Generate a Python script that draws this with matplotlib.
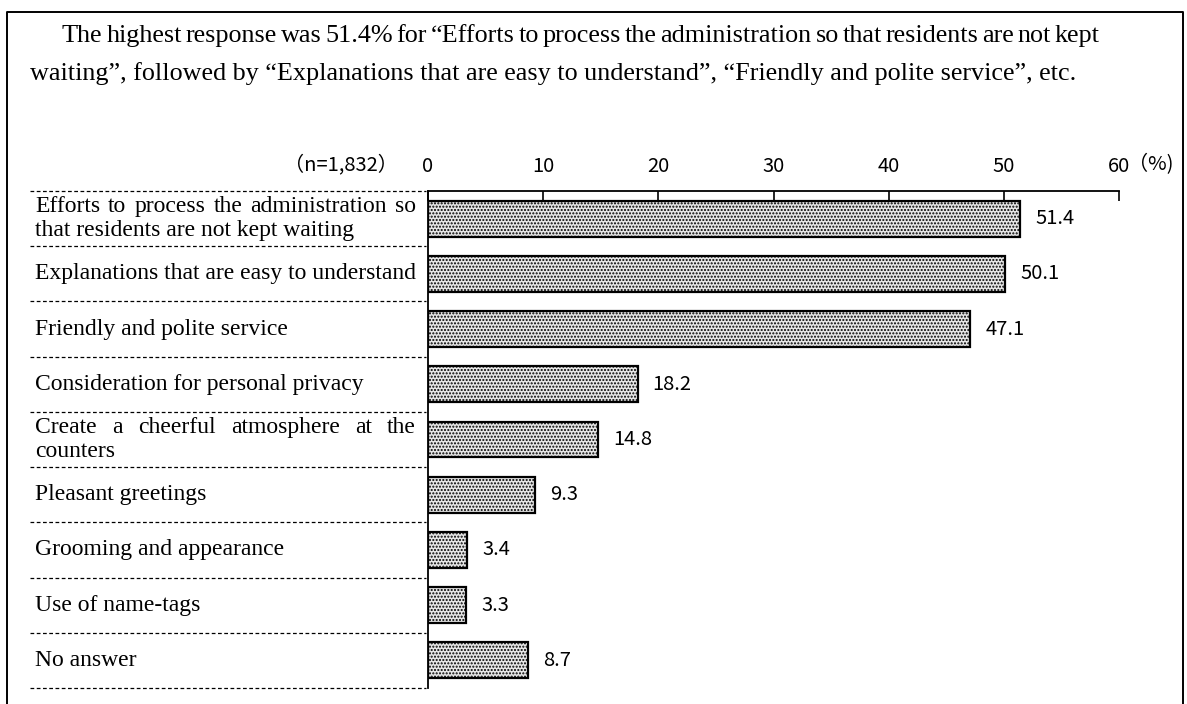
import matplotlib
matplotlib.use("Agg")
import matplotlib.pyplot as plt
from matplotlib.transforms import blended_transform_factory
from matplotlib.lines import Line2D

# ---------------- data ----------------
categories = [
    ["Efforts to process the administration so", "that residents are not kept waiting"],
    ["Explanations that are easy to understand"],
    ["Friendly and polite service"],
    ["Consideration for personal privacy"],
    ["Create a cheerful atmosphere at the", "counters"],
    ["Pleasant greetings"],
    ["Grooming and appearance"],
    ["Use of name-tags"],
    ["No answer"],
]
values = [51.4, 50.1, 47.1, 18.2, 14.8, 9.3, 3.4, 3.3, 8.7]
ticks = [0, 10, 20, 30, 40, 50, 60]
n_label = "（n=1,832）"
unit_label = "（%)"
summary_lines = [
    "The highest response was 51.4% for \u201cEfforts to process the administration so that residents are not kept",
    "waiting\u201d, followed by \u201cExplanations that are easy to understand\u201d, \u201cFriendly and polite service\u201d, etc.",
]

# ---------------- style ----------------
W, H = 1187, 704
SERIF = ["Liberation Serif", "DejaVu Serif"]
SANS = ["Noto Sans CJK JP", "DejaVu Sans"]
NUM_FS = 14.5
LAB_FS = 17
SUM_FS = 18.8
plt.rcParams["hatch.color"] = "#4a4a4a"
plt.rcParams["hatch.linewidth"] = 1.0

fig = plt.figure(figsize=(W / 100, H / 100), dpi=100)
renderer = fig.canvas.get_renderer()


def fx(px):
    return px / W


def fy(py):
    return 1 - py / H


ax = fig.add_axes([fx(428), fy(688), fx(1119) - fx(428), fy(191) - fy(688)])
ypos = list(range(len(values)))
ax.barh(ypos, values, height=0.65, color="#e6e6e6", edgecolor="black",
        linewidth=1.6, hatch=".....", zorder=2)
ax.set_xlim(0, 60)
ax.set_ylim(len(values) - 0.5, -0.5)
ax.xaxis.tick_top()
ax.set_xticks(ticks)
ax.set_xticklabels([str(t) for t in ticks], fontfamily=SANS, fontsize=NUM_FS)
ax.tick_params(axis="x", direction="in", length=7, width=1.2, pad=10)
ax.set_yticks([])
for s in ["right", "bottom"]:
    ax.spines[s].set_visible(False)
for s in ["top", "left"]:
    ax.spines[s].set_linewidth(1.3)

# value labels
for i, v in enumerate(values):
    ax.text(v + 1.3, i, f"{v:.1f}", ha="left", va="center",
            fontfamily=SANS, fontsize=NUM_FS)

# ---------------- labels & dashed separators ----------------
bt = blended_transform_factory(fig.transFigure, ax.transData)


def justified(x0_px, x1_px, y, text, transform, **kw):
    words = text.split()
    objs = []
    widths = []
    for w in words:
        t = fig.text(0, y, w, transform=transform, **kw)
        objs.append(t)
        widths.append(t.get_window_extent(renderer).width)
    gap = (x1_px - x0_px - sum(widths)) / max(len(words) - 1, 1)
    x = x0_px
    for t, w in zip(objs, widths):
        t.set_x(fx(x))
        x += w + gap


for i, lines in enumerate(categories):
    if len(lines) == 1:
        fig.text(fx(35), i, lines[0], transform=bt, ha="left", va="center",
                 fontfamily=SERIF, fontsize=LAB_FS)
    else:
        justified(35, 416, i - 0.215, lines[0], bt, ha="left", va="center",
                  fontfamily=SERIF, fontsize=LAB_FS)
        fig.text(fx(35), i + 0.215, lines[1], transform=bt, ha="left",
                 va="center", fontfamily=SERIF, fontsize=LAB_FS)

for k in range(len(values) + 1):
    y = k - 0.5
    fig.add_artist(Line2D([fx(30), fx(426)], [y, y], transform=bt,
                          color="black", lw=0.9, linestyle=(0, (3, 2))))

fig.text(fx(398), fy(165), n_label, ha="right", va="center",
         fontfamily=SANS, fontsize=NUM_FS)
fig.text(fx(1128), fy(165), unit_label, ha="left", va="center",
         fontfamily=SANS, fontsize=NUM_FS)

# ---------------- summary text ----------------
justified(62, 1100, fy(36), summary_lines[0], fig.transFigure,
          ha="left", va="center", fontfamily=SERIF, fontsize=SUM_FS)
fig.text(fx(30), fy(74), summary_lines[1], ha="left", va="center",
         fontfamily=SERIF, fontsize=SUM_FS)

# ---------------- frame ----------------
fig.add_artist(Line2D([fx(7), fx(7), fx(1183), fx(1183)],
                      [fy(710), fy(12), fy(12), fy(710)],
                      transform=fig.transFigure, color="black", lw=1.4))

fig.savefig("out.png", dpi=100)
